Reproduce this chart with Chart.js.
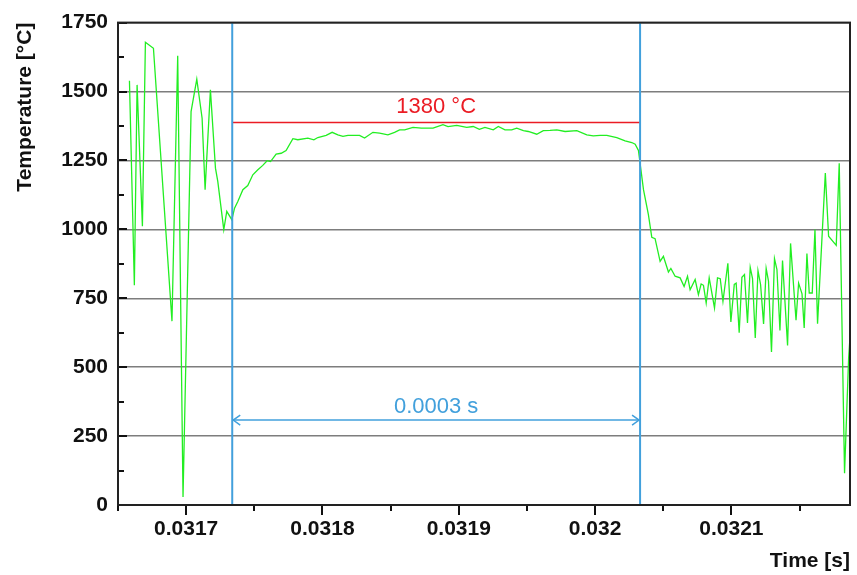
<!DOCTYPE html>
<html>
<head>
<meta charset="utf-8">
<script src="https://cdn.jsdelivr.net/npm/chart.js@4.4.0/dist/chart.umd.min.js"></script>
<style>
  body { margin: 0; background: #fff; }
  #wrap { width: 857px; height: 575px; }
</style>
</head>
<body>
<div id="wrap"><canvas id="tempChart" width="857" height="575"></canvas></div>
<script>
// measured temperature trace (time in s, temperature in °C)
const tempTimes = [
  0.0316584, 0.0316620, 0.0316640, 0.0316679, 0.0316701, 0.0316760, 0.0316896, 0.0316938,
  0.0316977, 0.0317036, 0.0317078, 0.0317117, 0.0317139, 0.0317178, 0.0317215, 0.0317232,
  0.0317276, 0.0317298, 0.0317335, 0.0317355, 0.0317379, 0.0317416, 0.0317452, 0.0317489,
  0.0317526, 0.0317562, 0.0317594, 0.0317619, 0.0317660, 0.0317697, 0.0317733, 0.0317783,
  0.0317819, 0.0317893, 0.0317937, 0.0317966, 0.0318027, 0.0318071, 0.0318113, 0.0318150,
  0.0318187, 0.0318272, 0.0318309, 0.0318370, 0.0318419, 0.0318480, 0.0318529, 0.0318566,
  0.0318603, 0.0318664, 0.0318725, 0.0318811, 0.0318884, 0.0318921, 0.0318985, 0.0319058,
  0.0319106, 0.0319151, 0.0319192, 0.0319253, 0.0319290, 0.0319339, 0.0319388, 0.0319425,
  0.0319474, 0.0319510, 0.0319572, 0.0319620, 0.0319670, 0.0319719, 0.0319780, 0.0319866,
  0.0319939, 0.0319987, 0.0320037, 0.0320086, 0.0320159, 0.0320220, 0.0320269, 0.0320294,
  0.0320318, 0.0320355, 0.0320391, 0.0320416, 0.0320440, 0.0320477, 0.0320501, 0.0320538,
  0.0320556, 0.0320587, 0.0320624, 0.0320653, 0.0320678, 0.0320697, 0.0320734, 0.0320758,
  0.0320778, 0.0320795, 0.0320815, 0.0320837, 0.0320876, 0.0320898, 0.0320918, 0.0320938,
  0.0320974, 0.0320996, 0.0321021, 0.0321035, 0.0321057, 0.0321077, 0.0321096, 0.0321118,
  0.0321138, 0.0321155, 0.0321175, 0.0321195, 0.0321214, 0.0321236, 0.0321255, 0.0321272,
  0.0321294, 0.0321316, 0.0321334, 0.0321356, 0.0321375, 0.0321412, 0.0321434, 0.0321474,
  0.0321493, 0.0321518, 0.0321534, 0.0321554, 0.0321571, 0.0321593, 0.0321613, 0.0321632,
  0.0321689, 0.0321713, 0.0321769, 0.0321791, 0.0321830, 0.0321860, 0.0321885
]
const tempValues = [
  1539, 797, 1524, 1011, 1679, 1657, 667, 1630,
  29, 1427, 1545, 1403, 1144, 1506, 1222, 1174,
  999, 1065, 1035, 1077, 1101, 1144, 1159, 1198,
  1216, 1232, 1249, 1246, 1273, 1276, 1286, 1329,
  1325, 1331, 1325, 1333, 1341, 1352, 1343, 1337,
  1341, 1341, 1331, 1352, 1349, 1343, 1352, 1361,
  1361, 1370, 1367, 1367, 1380, 1373, 1377, 1370,
  1373, 1363, 1370, 1361, 1373, 1361, 1361, 1367,
  1358, 1355, 1345, 1358, 1359, 1361, 1355, 1358,
  1343, 1339, 1341, 1341, 1333, 1321, 1315, 1309,
  1286, 1144, 1053, 971, 966, 884, 902, 845,
  858, 830, 824, 793, 830, 781, 818, 763,
  802, 797, 733, 824, 715, 824, 821, 739,
  877, 664, 800, 805, 625, 826, 836, 660,
  862, 821, 606, 850, 800, 657, 858, 812,
  555, 894, 854, 633, 887, 579, 949, 670,
  805, 766, 642, 912, 769, 769, 999, 658,
  1204, 975, 942, 1240, 115, 534, 720
]

const xTicks = [0.0317, 0.0318, 0.0319, 0.032, 0.0321]
const yTicks = [0, 250, 500, 750, 1000, 1250, 1500, 1750]

// annotations
const markerTimes = [0.0317338, 0.032033]
const levelValue = 1388
const levelLabel = '1380 °C'
const spanValue = 308
const spanLabel = '0.0003 s'

const green = '#22ee22'
const red = '#eb1c24'
const blue = '#42a0dc'
const fontFamily = "'Liberation Sans', Arial, sans-serif"

const points = tempTimes.map((t, i) => ({ x: t, y: tempValues[i] }))

const frameAndTicks = {
  id: 'frameAndTicks',
  afterDatasetsDraw(chart) {
    const { ctx, chartArea: a, scales: { x, y } } = chart
    ctx.save()
    ctx.strokeStyle = '#111'
    ctx.lineWidth = 2
    // y ticks point inward, minor every 125
    for (let v = 0; v <= 1750; v += 125) {
      const py = Math.round(y.getPixelForValue(v))
      const len = v % 250 === 0 ? 9 : 6
      ctx.beginPath()
      ctx.moveTo(a.left, py)
      ctx.lineTo(a.left + len, py)
      ctx.stroke()
    }
    // x ticks point outward, minor every 0.00005
    for (let i = 0; ; i++) {
      const v = x.min + i * 0.00005
      if (v > x.max + 1e-9) break
      const px = Math.round(x.getPixelForValue(v))
      const len = i % 2 === 1 ? 10 : 6
      ctx.beginPath()
      ctx.moveTo(px, a.bottom)
      ctx.lineTo(px, a.bottom + len)
      ctx.stroke()
    }
    ctx.strokeStyle = '#222'
    ctx.strokeRect(a.left, a.top, a.right - a.left, a.bottom - a.top)

    // arrow heads on the span line
    const sy = y.getPixelForValue(spanValue)
    const x0 = x.getPixelForValue(markerTimes[0])
    const x1 = x.getPixelForValue(markerTimes[1])
    ctx.strokeStyle = blue
    ctx.lineWidth = 1.5
    ctx.beginPath()
    ctx.moveTo(x0 + 8, sy - 5)
    ctx.lineTo(x0 + 1, sy)
    ctx.lineTo(x0 + 8, sy + 5)
    ctx.moveTo(x1 - 8, sy - 5)
    ctx.lineTo(x1 - 1, sy)
    ctx.lineTo(x1 - 8, sy + 5)
    ctx.stroke()

    // annotation texts
    const mid = (x0 + x1) / 2
    ctx.font = '22px ' + fontFamily
    ctx.textAlign = 'center'
    ctx.textBaseline = 'middle'
    ctx.fillStyle = red
    ctx.fillText(levelLabel, mid, y.getPixelForValue(levelValue) - 15)
    ctx.fillStyle = blue
    ctx.fillText(spanLabel, mid, sy - 13)
    ctx.restore()
  },
}

new Chart(document.getElementById('tempChart').getContext('2d'), {
  type: 'line',
  data: {
    datasets: [
      {
        data: [{ x: markerTimes[0], y: 0 }, { x: markerTimes[0], y: 1750 }],
        borderColor: blue,
        borderWidth: 2,
      },
      {
        data: [{ x: markerTimes[1], y: 0 }, { x: markerTimes[1], y: 1750 }],
        borderColor: blue,
        borderWidth: 2,
      },
      {
        data: [{ x: markerTimes[0], y: spanValue }, { x: markerTimes[1], y: spanValue }],
        borderColor: blue,
        borderWidth: 1.5,
      },
      {
        data: [{ x: markerTimes[0], y: levelValue }, { x: markerTimes[1], y: levelValue }],
        borderColor: red,
        borderWidth: 1.5,
      },
      {
        label: 'Temperature',
        data: points,
        borderColor: green,
        borderWidth: 1.3,
      },
    ],
  },
  options: {
    responsive: false,
    animation: false,
    events: [],
    elements: {
      point: { radius: 0 },
      line: { tension: 0, fill: false },
    },
    layout: { padding: { top: 21, right: 7, left: 0, bottom: 0 } },
    plugins: {
      legend: { display: false },
      tooltip: { enabled: false },
    },
    scales: {
      x: {
        type: 'linear',
        min: 0.03165,
        max: 0.032187,
        afterBuildTicks: (scale) => {
          scale.ticks = xTicks.map((v) => ({ value: v }))
        },
        afterFit: (scale) => {
          scale.height = 70
        },
        grid: { display: false, drawTicks: false },
        border: { display: false },
        ticks: {
          padding: 12,
          color: '#111',
          font: { family: fontFamily, size: 21, weight: 'bold' },
          maxRotation: 0,
          callback: (value) => String(Number(value.toFixed(4))),
        },
        title: {
          display: true,
          text: 'Time [s]',
          align: 'end',
          color: '#111',
          padding: { top: 0, bottom: 1 },
          font: { family: fontFamily, size: 21, weight: 'bold' },
        },
      },
      y: {
        min: 0,
        max: 1750,
        afterBuildTicks: (scale) => {
          scale.ticks = yTicks.map((v) => ({ value: v }))
        },
        afterFit: (scale) => {
          scale.width = 118
        },
        grid: { color: '#7d7d7d', lineWidth: 1.5, drawTicks: false },
        border: { display: false },
        ticks: {
          padding: 10,
          color: '#111',
          font: { family: fontFamily, size: 21, weight: 'bold' },
          callback: (value) => String(value),
        },
        title: {
          display: true,
          text: 'Temperature [°C]',
          align: 'end',
          color: '#111',
          padding: { top: 13, bottom: 0 },
          font: { family: fontFamily, size: 21, weight: 'bold' },
        },
      },
    },
  },
  plugins: [frameAndTicks],
})
</script>
</body>
</html>
